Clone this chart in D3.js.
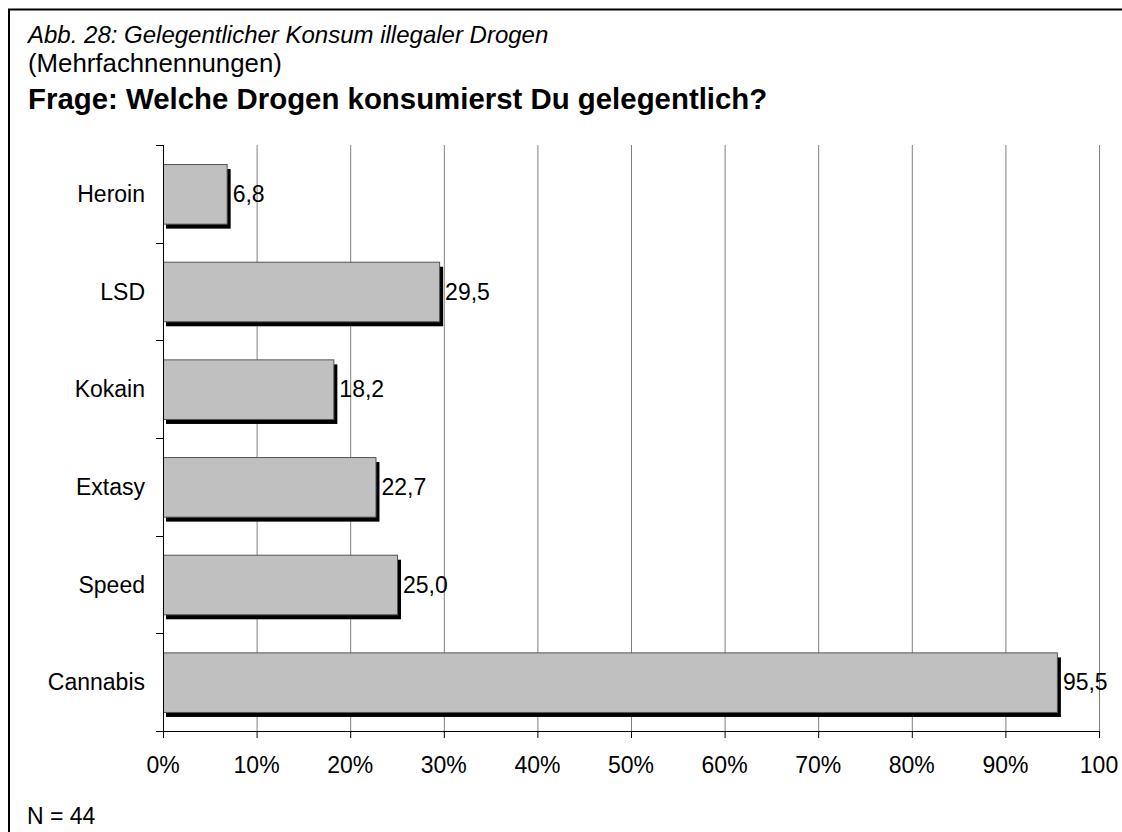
<!DOCTYPE html>
<html>
<head>
<meta charset="utf-8">
<script src="https://cdn.jsdelivr.net/npm/d3@7"></script>
<style>
  html, body { margin: 0; padding: 0; background: #fff; overflow: hidden; }
  svg { display: block; }
  svg text { font-family: "Liberation Sans", Arial, sans-serif; fill: #000; }
</style>
</head>
<body>
<div id="chart"></div>
<script>
// Daten
const categories = ["Heroin", "LSD", "Kokain", "Extasy", "Speed", "Cannabis"];
const values = [6.8, 29.5, 18.2, 22.7, 25.0, 95.5];
const tickValues = [0, 10, 20, 30, 40, 50, 60, 70, 80, 90, 100];
const tickLabels = ["0%", "10%", "20%", "30%", "40%", "50%", "60%", "70%", "80%", "90%", "100"];

const W = 1122, H = 832;
const svg = d3.select("#chart").append("svg")
    .attr("width", W)
    .attr("height", H);

// Rahmen (nur links und oben sichtbar)
svg.append("path")
    .attr("d", `M9,${H} V9.5 H${W}`)
    .attr("fill", "none")
    .attr("stroke", "#000")
    .attr("stroke-width", 2);

// Titel
svg.append("text").attr("x", 28).attr("y", 43)
    .style("font-size", "24px").style("font-style", "italic")
    .text("Abb. 28: Gelegentlicher Konsum illegaler Drogen");
svg.append("text").attr("x", 28).attr("y", 72)
    .style("font-size", "25.8px")
    .text("(Mehrfachnennungen)");
svg.append("text").attr("x", 28).attr("y", 109)
    .style("font-size", "29.4px").style("font-weight", "bold")
    .text("Frage: Welche Drogen konsumierst Du gelegentlich?");

const margin = { top: 145, left: 163, right: W - 1099, bottom: H - 731 };
const width = W - margin.left - margin.right;
const height = H - margin.top - margin.bottom;

const g = svg.append("g").attr("transform", `translate(${margin.left},${margin.top})`);

const x = d3.scaleLinear().domain([0, 100]).range([0, width]);
const y = d3.scaleBand().domain(categories).range([0, height]).paddingInner(0.39).paddingOuter(0.195);

// Gitterlinien
g.selectAll(".grid")
    .data(tickValues.slice(1))
    .enter().append("line")
    .attr("x1", d => x(d) + 0.5).attr("x2", d => x(d) + 0.5)
    .attr("y1", 0).attr("y2", height)
    .attr("stroke", "#808080").attr("stroke-width", 1);

// Schatten
g.selectAll(".shadow")
    .data(values)
    .enter().append("rect")
    .attr("x", 3)
    .attr("y", (d, i) => y(categories[i]) + 5)
    .attr("width", d => x(d) + 1)
    .attr("height", y.bandwidth())
    .attr("fill", "#000");

// Balken
g.selectAll(".bar")
    .data(values)
    .enter().append("rect")
    .attr("class", "bar")
    .attr("x", 0.5)
    .attr("y", (d, i) => y(categories[i]) + 0.5)
    .attr("width", d => x(d))
    .attr("height", y.bandwidth())
    .attr("fill", "#c0c0c0")
    .attr("stroke", "#555")
    .attr("stroke-width", 1);

// Werte
g.selectAll(".val")
    .data(values)
    .enter().append("text")
    .attr("x", d => x(d) + 6)
    .attr("y", (d, i) => y(categories[i]) + y.bandwidth() / 2 + 8)
    .style("font-size", "23px")
    .text(d => d.toFixed(1).replace(".", ","));

// y-Achse
const yAxis = g.append("g");
yAxis.append("line")
    .attr("x1", 0.5).attr("x2", 0.5).attr("y1", 0).attr("y2", height)
    .attr("stroke", "#000");
yAxis.selectAll(".ytick")
    .data(d3.range(categories.length + 1))
    .enter().append("line")
    .attr("x1", -7).attr("x2", 0)
    .attr("y1", i => Math.round(i * y.step()) + 0.5)
    .attr("y2", i => Math.round(i * y.step()) + 0.5)
    .attr("stroke", "#000");
yAxis.selectAll(".ylab")
    .data(categories)
    .enter().append("text")
    .attr("x", -18)
    .attr("y", d => y(d) + y.bandwidth() / 2 + 8)
    .attr("text-anchor", "end")
    .style("font-size", "23px")
    .text(d => d);

// x-Achse
const xAxis = g.append("g").attr("transform", `translate(0,${height})`);
xAxis.append("line")
    .attr("x1", 0).attr("x2", width).attr("y1", 0.5).attr("y2", 0.5)
    .attr("stroke", "#000");
xAxis.selectAll(".xtick")
    .data(tickValues)
    .enter().append("line")
    .attr("x1", d => x(d) + 0.5).attr("x2", d => x(d) + 0.5)
    .attr("y1", 0).attr("y2", 7)
    .attr("stroke", "#000");
xAxis.selectAll(".xlab")
    .data(tickValues)
    .enter().append("text")
    .attr("x", d => x(d))
    .attr("y", 42)
    .attr("text-anchor", "middle")
    .style("font-size", "23px")
    .text((d, i) => tickLabels[i]);

// Fußnote
svg.append("text").attr("x", 27).attr("y", 824)
    .style("font-size", "23px")
    .text("N = 44");
</script>
</body>
</html>
